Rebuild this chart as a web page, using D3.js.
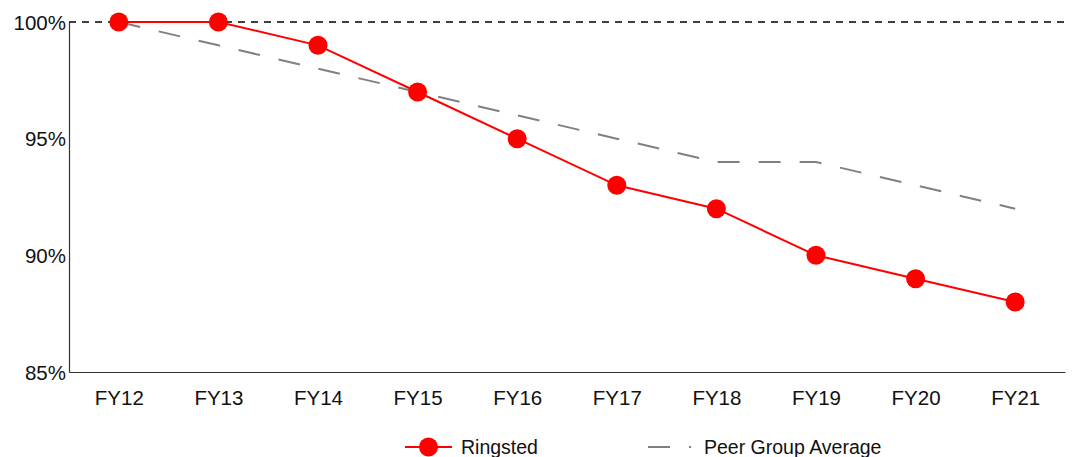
<!DOCTYPE html>
<html>
<head>
<meta charset="utf-8">
<script src="https://cdn.jsdelivr.net/npm/d3@7"></script>
<style>
  body { margin: 0; background: #fff; }
  svg { font-family: "Liberation Sans", Arial, sans-serif; }
</style>
</head>
<body>
<div id="chart"></div>
<script>
// chart data
const years = ["FY12", "FY13", "FY14", "FY15", "FY16", "FY17", "FY18", "FY19", "FY20", "FY21"];
const ringsted = [100, 100, 99, 97, 95, 93, 92, 90, 89, 88];
const peerAvg = [100, 99, 98, 97, 96, 95, 94, 94, 93, 92];
const yTicks = [85, 90, 95, 100];

const width = 1078, height = 457;
const margin = { top: 22, right: 13, bottom: 85, left: 69 };

const svg = d3.select("#chart").append("svg")
    .attr("width", width)
    .attr("height", height);

const x = d3.scalePoint()
    .domain(years)
    .range([margin.left, width - margin.right])
    .padding(0.5);

const y = d3.scaleLinear()
    .domain([85, 100])
    .range([height - margin.bottom, margin.top]);

// axes
const xAxis = svg.append("g")
    .attr("transform", `translate(0,${height - margin.bottom})`)
    .call(d3.axisBottom(x).tickSize(0).tickPadding(18));
xAxis.select(".domain").attr("stroke", "#333").attr("stroke-width", 1.2);
xAxis.selectAll("text").attr("font-size", 20.5).attr("fill", "#111")
    .attr("font-family", "Liberation Sans, Arial, sans-serif");

const yAxis = svg.append("g")
    .attr("transform", `translate(${margin.left},0)`)
    .call(d3.axisLeft(y).tickValues(yTicks).tickSize(0).tickPadding(3)
        .tickFormat(d => d + "%"));
yAxis.select(".domain").attr("stroke", "#333").attr("stroke-width", 1.2);
yAxis.selectAll("text").attr("font-size", 20.5).attr("fill", "#111")
    .attr("font-family", "Liberation Sans, Arial, sans-serif")
    .attr("dy", "0.35em");

// 100% reference line
svg.append("line")
    .attr("x1", margin.left)
    .attr("x2", width - margin.right)
    .attr("y1", y(100))
    .attr("y2", y(100))
    .attr("stroke", "#000")
    .attr("stroke-width", 1.6)
    .attr("stroke-dasharray", "7,6");

const line = d3.line()
    .x((d, i) => x(years[i]))
    .y(d => y(d));

// peer group average
svg.append("path")
    .datum(peerAvg)
    .attr("d", line)
    .attr("fill", "none")
    .attr("stroke", "#808080")
    .attr("stroke-width", 2)
    .attr("stroke-dasharray", "22,19");

// Ringsted
svg.append("path")
    .datum(ringsted)
    .attr("d", line)
    .attr("fill", "none")
    .attr("stroke", "#ff0000")
    .attr("stroke-width", 2);

svg.selectAll("circle.pt")
    .data(ringsted)
    .enter().append("circle")
    .attr("class", "pt")
    .attr("cx", (d, i) => x(years[i]))
    .attr("cy", d => y(d))
    .attr("r", 9.5)
    .attr("fill", "#ff0000");

// legend
const leg = svg.append("g").attr("transform", "translate(0,447)");
leg.append("line")
    .attr("x1", 405).attr("x2", 452).attr("y1", 0).attr("y2", 0)
    .attr("stroke", "#ff0000").attr("stroke-width", 2);
leg.append("circle")
    .attr("cx", 428.5).attr("cy", 0).attr("r", 9.5).attr("fill", "#ff0000");
leg.append("text")
    .attr("x", 461).attr("y", 0).attr("dy", "0.35em")
    .attr("font-size", 19.5).attr("fill", "#111")
    .text("Ringsted");

leg.append("line")
    .attr("x1", 648).attr("x2", 691).attr("y1", 0).attr("y2", 0)
    .attr("stroke", "#808080").attr("stroke-width", 2)
    .attr("stroke-dasharray", "22,19");
leg.append("text")
    .attr("x", 704).attr("y", 0).attr("dy", "0.35em")
    .attr("font-size", 19.5).attr("fill", "#111")
    .text("Peer Group Average");
</script>
</body>
</html>
